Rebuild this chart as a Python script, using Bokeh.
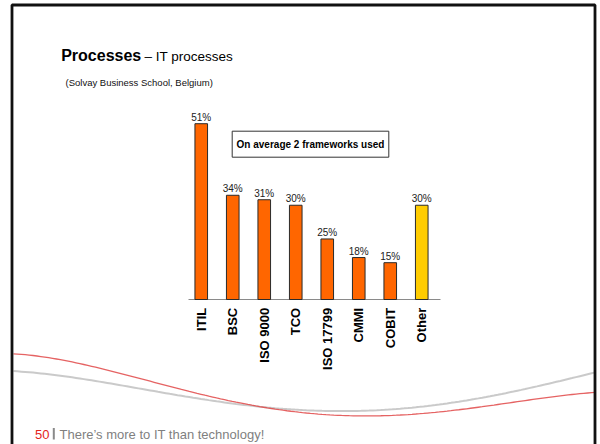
import numpy as np
from bokeh.plotting import figure
from bokeh.models import ColumnDataSource, Range1d, Label, BoxAnnotation
from bokeh.embed import file_html
from bokeh.resources import INLINE
from bokeh.core.properties import value

# ---- data ----
frameworks = ["ITIL", "BSC", "ISO 9000", "TCO", "ISO 17799", "CMMI", "COBIT", "Other"]
share_labels = ["51%", "34%", "31%", "30%", "25%", "18%", "15%", "30%"]
bar_heights = [51.1, 30.3, 29.0, 27.4, 17.6, 12.2, 10.7, 27.4]   # bar lengths as drawn

title_main = "Processes"
title_sub = "\u2013 IT processes"
source_note = "(Solvay Business School, Belgium)"
callout = "On average 2 frameworks used"
page_no = "50"
footer = "There\u2019s more to IT than technology!"

# ---- layout (page pixels) ----
W, H = 600, 444
X0 = 200.75          # page x of first category centre
STEP = 31.5          # page px per category
Y0 = 299             # page y of the baseline
PX_PER_UNIT = 3.44   # page px per value unit
FONT = "Liberation Sans"

pos = list(range(len(frameworks)))

p = figure(width=W, height=H,
           x_range=Range1d(-X0 / STEP, (W - X0) / STEP),
           y_range=Range1d(-(H - Y0) / PX_PER_UNIT, Y0 / PX_PER_UNIT),
           output_backend="svg", toolbar_location=None, title=None,
           min_border=0, x_axis_location=None, y_axis_location=None)
p.grid.visible = False
p.outline_line_color = None
p.background_fill_color = "white"
p.border_fill_color = "white"

# pixel-space ranges for page decorations
p.extra_x_ranges = {"px": Range1d(0, W)}
p.extra_y_ranges = {"px": Range1d(H, 0)}

# slide frame
p.add_layout(BoxAnnotation(left=11.5, right=594.5, top=4.5, bottom=H + 5,
                           x_range_name="px", y_range_name="px",
                           fill_color=None, fill_alpha=0,
                           line_color="#111111", line_alpha=1, line_width=2.8))

# swoosh curves
rx = np.array([13, 115, 200, 268, 318, 421, 497, 595])
ry = np.array([353.3, 371.7, 393, 408.3, 414, 411.7, 405, 391.7])
gx = np.array([13, 153, 268, 306, 383, 497, 595])
gy = np.array([370.7, 390, 408, 410, 408, 395, 371.7])
for cx, cy, col, lw, alpha in [(gx, gy, "#c4c4c4", 2.0, 0.9), (rx, ry, "#e04848", 1.3, 0.85)]:
    xx = np.linspace(cx[0], cx[-1], 150)
    yy = np.polyval(np.polyfit(cx, cy, 4), xx)
    p.line(xx, yy, x_range_name="px", y_range_name="px",
           line_color=col, line_width=lw, line_alpha=alpha)

# category axis: baseline line and rotated category labels
p.line([188, 440], [Y0, Y0], x_range_name="px", y_range_name="px",
       line_color="#8a8a8a", line_width=1)

colors = ["#FFCC00" if f == "Other" else "#FF6600" for f in frameworks]
label_y = [h + 6.5 / PX_PER_UNIT for h in bar_heights]
src = ColumnDataSource(dict(x=pos, top=bar_heights, label=share_labels,
                            label_y=label_y, color=colors, name=frameworks))
p.vbar(x="x", top="top", bottom=0, width=0.4, source=src, fill_color="color",
       line_color="#2a2a2a", line_width=1)
p.text(x="x", y="label_y", text="label", source=src, text_align="center",
       text_baseline="alphabetic", text_font=value(FONT),
       text_font_size="10px", text_color="#222222")

cat_y = -8.3 / PX_PER_UNIT
p.text(x="x", y=cat_y, text="name", source=src, angle=np.pi / 2,
       text_align="right", text_baseline="middle", text_font=value(FONT),
       text_font_style="bold", text_font_size="13px", text_color="black")


def lab(x, y, text, size, color="black", style="normal", align="left"):
    p.add_layout(Label(x=x, y=y, x_range_name="px", y_range_name="px", text=text,
                       text_font=FONT, text_font_size=size, text_color=color,
                       text_font_style=style, text_baseline="middle", text_align=align))


# titles
lab(60.7, 55.0, title_main, "16px", style="bold")
lab(144, 55.9, title_sub, "13.5px")
lab(65, 82.3, source_note, "9.5px", color="#111111")

# callout box
p.add_layout(BoxAnnotation(left=231.7, right=388.3, top=130.7, bottom=156.7,
                           x_range_name="px", y_range_name="px",
                           fill_color="white", fill_alpha=1,
                           line_color="#333333", line_alpha=1, line_width=1))
lab(310, 144.3, callout, "10px", style="bold", align="center")

# footer
lab(34.5, 433.5, page_no, "13px", color="#e3241b")
p.add_layout(BoxAnnotation(left=52.3, right=54.3, top=427.5, bottom=439,
                           x_range_name="px", y_range_name="px",
                           fill_color="#8a8a8a", fill_alpha=1, line_color=None))
lab(59, 433.5, footer, "13px", color="#7f7f7f")

open("out.html", "w").write(file_html(p, INLINE))
